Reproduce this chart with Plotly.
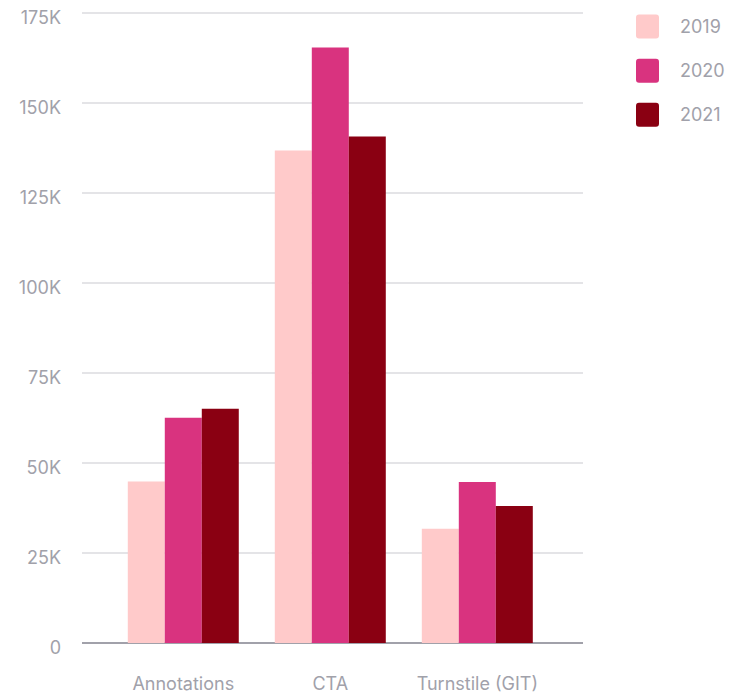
import plotly.graph_objects as go

categories = ["Annotations", "CTA", "Turnstile (GIT)"]
years = ["2019", "2020", "2021"]
values_2019 = [44800, 136700, 31700]
values_2020 = [62500, 165300, 44700]
values_2021 = [65000, 140600, 38000]
colors = ["#ffcaca", "#d9337f", "#8a0012"]
tick_vals = [0, 25000, 50000, 75000, 100000, 125000, 150000, 175000]
tick_text = ["0", "25K", "50K", "75K", "100K", "125K", "150K", "175K"]

OFF = 8  # default page body margin
Y_MAX = 176000
px_per_unit = 630 / 175000
extra = (Y_MAX - 175000) * px_per_unit
W, H = 733 - OFF, 696 - OFF
L, R, T, B = 82 - OFF, 150, max(0, 13 - OFF - extra), 53
pw, ph = W - L - R, H - T - B

fig = go.Figure()
for name, vals, c in zip(years, [values_2019, values_2020, values_2021], colors):
    fig.add_trace(go.Bar(x=categories, y=vals, name=name, marker_color=c,
                         marker_line_width=0, showlegend=False))

font_color = "#a1a1aa"
FS = 18


def px_to_paper(x, y):
    # page pixel -> paper coords
    return (x - OFF - L) / pw, (H - B - (y - OFF)) / ph


def P(x, y):
    a, b = px_to_paper(x, y)
    return f"{a:.5f},{b:.5f}"


# manual legend
for i, (name, c) in enumerate(zip(years, colors)):
    cy = 27 + 44 * i
    x0, x1 = 636, 659
    y0, y1 = cy - 12, cy + 12
    r = 3
    path = (f"M {P(x0 + r, y0)} L {P(x1 - r, y0)} Q {P(x1, y0)} {P(x1, y0 + r)} "
            f"L {P(x1, y1 - r)} Q {P(x1, y1)} {P(x1 - r, y1)} L {P(x0 + r, y1)} "
            f"Q {P(x0, y1)} {P(x0, y1 - r)} L {P(x0, y0 + r)} Q {P(x0, y0)} {P(x0 + r, y0)} Z")
    fig.add_shape(type="path", path=path, xref="paper", yref="paper",
                  fillcolor=c, line_width=0)
    tx, ty = px_to_paper(678, cy)
    fig.add_annotation(text=name, x=tx, y=ty, xref="paper", yref="paper",
                       xanchor="left", yanchor="middle", showarrow=False,
                       font=dict(size=FS, color=font_color))

fig.update_layout(
    width=W, height=H,
    margin=dict(l=L, r=R, t=T, b=B, autoexpand=False),
    barmode="group", bargap=0.245, bargroupgap=0,
    plot_bgcolor="white", paper_bgcolor="white",
    font=dict(family="Inter, sans-serif", color=font_color, size=FS),
    xaxis=dict(range=[-0.689, 2.719], showgrid=False, showline=False, automargin=False,
               ticks="", ticklabelstandoff=28, ticklabeloverflow="allow",
               tickfont=dict(size=FS, color=font_color)),
    yaxis=dict(range=[0, Y_MAX], tickvals=tick_vals, ticktext=tick_text, automargin=False,
               showgrid=True, gridcolor="#e4e4e7", gridwidth=2,
               zeroline=True, zerolinecolor="#a1a1aa", zerolinewidth=2,
               showline=False, ticks="", ticklabelstandoff=20, ticklabelshift=5,
               ticklabeloverflow="allow",
               tickfont=dict(size=FS, color=font_color)),
)

fig.write_html("out.html")
